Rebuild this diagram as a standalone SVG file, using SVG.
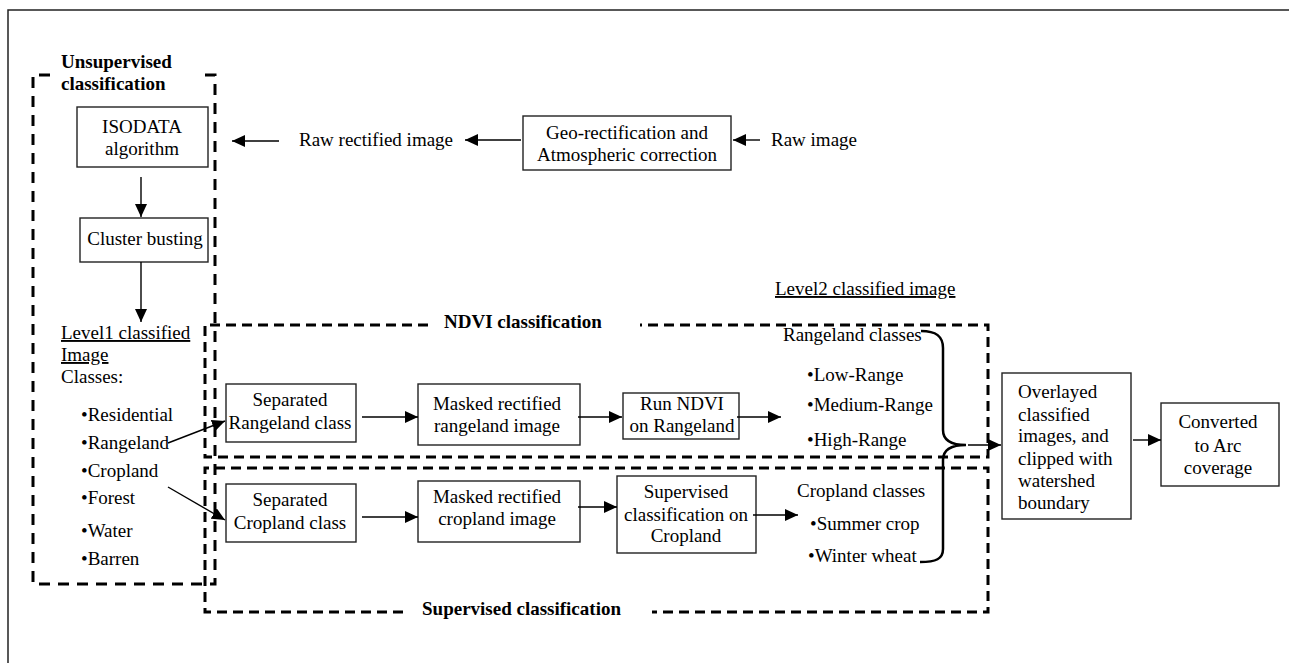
<svg xmlns="http://www.w3.org/2000/svg" width="1289" height="663" viewBox="0 0 1289 663">
  <defs>
    <marker id="arrow" markerUnits="userSpaceOnUse" markerWidth="14" markerHeight="12" refX="13" refY="6" orient="auto">
      <path d="M0,0 L13,6 L0,12 z" fill="#000"/>
    </marker>
    <style>
      text { font-family: "Liberation Serif", "Times New Roman", serif; font-size: 19px; fill: #000; }
      .title { font-weight: bold; }
      .mid { text-anchor: middle; }
      .u { text-decoration: underline; }
      .box { fill: #fff; stroke: #222; stroke-width: 1.4; }
      .frame { fill: none; stroke: #222; stroke-width: 1.5; }
      .dash { fill: none; stroke: #000; stroke-width: 3; stroke-dasharray: 10 6; }
      .dash-long { stroke-dasharray: 11 8; }
      .conn { fill: none; stroke: #000; stroke-width: 1.4; marker-end: url(#arrow); }
      .brace { fill: none; stroke: #000; stroke-width: 2.5; }
    </style>
  </defs>

  <rect width="1289" height="663" fill="#fff"/>

  <!-- outer frame (left and top edges only) -->
  <path class="frame" d="M8,663 L8,10 L1289,10"/>

  <!-- dashed group outlines -->
  <g id="groups">
    <!-- unsupervised classification -->
    <path class="dash dash-long" d="M50,75 L33,75 L33,584 L215,584 L215,75 L199,75"/>
    <text class="title" x="61" y="68">Unsupervised</text>
    <text class="title" x="61" y="90">classification</text>

    <!-- NDVI classification -->
    <path class="dash" d="M428,325 L205,325 L205,457 L988,457 L988,325 L640,325"/>
    <text class="title" x="444" y="328">NDVI classification</text>

    <!-- supervised classification -->
    <path class="dash" d="M403,612 L205,612 L205,468 L988,468 L988,612 L652,612"/>
    <text class="title" x="422" y="615">Supervised classification</text>
  </g>

  <!-- processing steps -->
  <g id="geo-rectification">
    <rect class="box" x="523" y="116" width="208" height="54"/>
    <text class="mid" x="627" y="139">Geo-rectification and</text>
    <text class="mid" x="627" y="161">Atmospheric correction</text>
  </g>

  <g id="raw-image">
    <text x="771" y="146">Raw image</text>
  </g>

  <g id="raw-rectified-image">
    <text x="299" y="146">Raw rectified image</text>
  </g>

  <g id="isodata">
    <rect class="box" x="77" y="107" width="131" height="60"/>
    <text class="mid" x="142" y="133">ISODATA</text>
    <text class="mid" x="142" y="155">algorithm</text>
  </g>

  <g id="cluster-busting">
    <rect class="box" x="80" y="218" width="128" height="44"/>
    <text class="mid" x="145" y="245">Cluster busting</text>
  </g>

  <g id="level1-classes">
    <text class="u" x="61" y="339">Level1 classified</text>
    <text class="u" x="61" y="361">Image</text>
    <text x="61" y="383">Classes:</text>
    <text x="81" y="421">•Residential</text>
    <text x="81" y="449">•Rangeland</text>
    <text x="81" y="477">•Cropland</text>
    <text x="81" y="504">•Forest</text>
    <text x="81" y="537">•Water</text>
    <text x="81" y="565">•Barren</text>
  </g>

  <g id="separated-rangeland">
    <rect class="box" x="226" y="384" width="130" height="58"/>
    <text class="mid" x="290" y="406">Separated</text>
    <text class="mid" x="290" y="429">Rangeland class</text>
  </g>

  <g id="masked-rangeland">
    <rect class="box" x="418" y="384" width="162" height="61"/>
    <text class="mid" x="497" y="410">Masked rectified</text>
    <text class="mid" x="497" y="432">rangeland image</text>
  </g>

  <g id="run-ndvi">
    <rect class="box" x="623" y="393" width="116" height="46"/>
    <text class="mid" x="682" y="410">Run NDVI</text>
    <text class="mid" x="682" y="432">on Rangeland</text>
  </g>

  <g id="rangeland-classes">
    <text x="783" y="341">Rangeland classes</text>
    <text x="807" y="381">•Low-Range</text>
    <text x="807" y="411">•Medium-Range</text>
    <text x="807" y="446">•High-Range</text>
  </g>

  <g id="separated-cropland">
    <rect class="box" x="226" y="484" width="130" height="58"/>
    <text class="mid" x="290" y="506">Separated</text>
    <text class="mid" x="290" y="529">Cropland class</text>
  </g>

  <g id="masked-cropland">
    <rect class="box" x="418" y="481" width="162" height="61"/>
    <text class="mid" x="497" y="503">Masked rectified</text>
    <text class="mid" x="497" y="525">cropland image</text>
  </g>

  <g id="supervised-cropland">
    <rect class="box" x="617" y="476" width="139" height="77"/>
    <text class="mid" x="686" y="498">Supervised</text>
    <text class="mid" x="686" y="521">classification on</text>
    <text class="mid" x="686" y="542">Cropland</text>
  </g>

  <g id="cropland-classes">
    <text x="797" y="497">Cropland classes</text>
    <text x="810" y="530">•Summer crop</text>
    <text x="808" y="562">•Winter wheat</text>
  </g>

  <g id="level2-label">
    <text class="u" x="775" y="295">Level2 classified image</text>
  </g>

  <g id="overlayed">
    <rect class="box" x="1002" y="373" width="129" height="146"/>
    <text x="1018" y="398">Overlayed</text>
    <text x="1018" y="421">classified</text>
    <text x="1018" y="442">images, and</text>
    <text x="1018" y="465">clipped with</text>
    <text x="1018" y="487">watershed</text>
    <text x="1018" y="509">boundary</text>
  </g>

  <g id="converted">
    <rect class="box" x="1161" y="403" width="118" height="83"/>
    <text class="mid" x="1218" y="428">Converted</text>
    <text class="mid" x="1218" y="452">to Arc</text>
    <text class="mid" x="1218" y="474">coverage</text>
  </g>

  <!-- connectors -->
  <g id="connectors">
    <line class="conn" x1="760" y1="140" x2="733" y2="140"/>
    <line class="conn" x1="521" y1="140" x2="465" y2="140"/>
    <line class="conn" x1="279" y1="141" x2="232" y2="141"/>
    <line class="conn" x1="141" y1="177" x2="141" y2="217"/>
    <line class="conn" x1="141" y1="262" x2="141" y2="322"/>
    <line class="conn" x1="168" y1="443" x2="225" y2="421"/>
    <line class="conn" x1="168" y1="487" x2="225" y2="520"/>
    <line class="conn" x1="362" y1="417" x2="418" y2="417"/>
    <line class="conn" x1="578" y1="417" x2="622" y2="417"/>
    <line class="conn" x1="737" y1="417" x2="781" y2="417"/>
    <line class="conn" x1="362" y1="517" x2="418" y2="517"/>
    <line class="conn" x1="578" y1="507" x2="617" y2="507"/>
    <line class="conn" x1="753" y1="515" x2="798" y2="515"/>
    <path class="brace" d="M921,331 C936,331 943,336 943,348 L943,430 C943,441 952,445 966,445 C952,445 943,449 943,460 L943,549 C943,559 936,562 920,562"/>
    <line class="conn" x1="968" y1="445" x2="1001" y2="445"/>
    <line class="conn" x1="1133" y1="440" x2="1161" y2="440"/>
  </g>
</svg>
